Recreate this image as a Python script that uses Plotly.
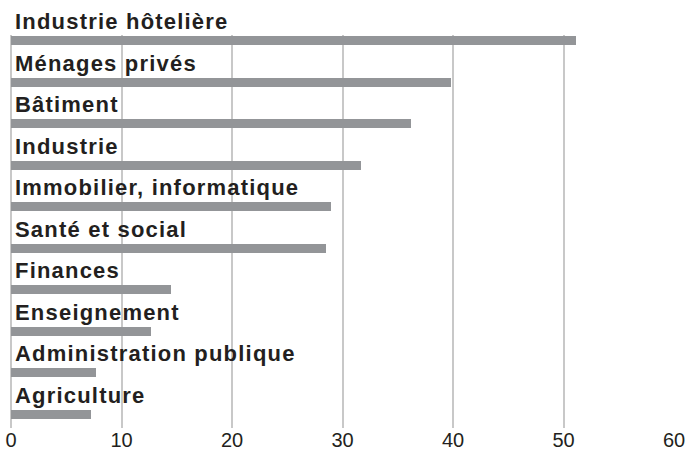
import plotly.graph_objects as go

categories = ["Industrie hôtelière", "Ménages privés", "Bâtiment", "Industrie",
              "Immobilier, informatique", "Santé et social", "Finances",
              "Enseignement", "Administration publique", "Agriculture"]
values = [51.1, 39.8, 36.2, 31.7, 29.0, 28.5, 14.5, 12.7, 7.7, 7.2]
tick_values = [0, 10, 20, 30, 40, 50, 60]
tick_labels = ["0", "10", "20", "30", "40", "50", "60"]

BAR = "#939598"
TXT = "#231f20"
GRID = "#c8c8c8"

fig = go.Figure(go.Bar(
    x=values, y=categories, orientation="h",
    marker=dict(color=BAR, line=dict(width=0)),
    width=0.217, hoverinfo="x+y",
))

for c in categories:
    fig.add_annotation(
        x=0, y=c, xref="x", yref="y",
        text=f'<b><span style="letter-spacing:1.2px">{c}</span></b>',
        showarrow=False, xanchor="left", yanchor="middle",
        xshift=2, yshift=19,
        font=dict(family="Liberation Sans, Arial, sans-serif", size=22,
                  color=TXT),
    )

fig.update_layout(
    width=688, height=451,
    margin=dict(l=11, r=14, t=35, b=23, autoexpand=False),
    paper_bgcolor="white", plot_bgcolor="white",
    showlegend=False,
    bargap=0,
    xaxis=dict(range=[0, 60], tickvals=tick_values, ticktext=tick_labels,
               automargin=False,
               showgrid=True, gridcolor=GRID, gridwidth=1.5,
               zeroline=True, zerolinecolor=GRID, zerolinewidth=1.5,
               showline=False, ticks="", ticklabelstandoff=-2,
               tickfont=dict(family="Liberation Sans, Arial, sans-serif",
                             size=20, color=TXT)),
    yaxis=dict(range=[9.327, -0.132], showticklabels=False, showgrid=False,
               automargin=False,
               zeroline=False, showline=False, ticks=""),
)

fig.write_html("out.html", config={"displayModeBar": False},
               post_script="document.body.style.margin='0';document.body.style.overflow='hidden';")
